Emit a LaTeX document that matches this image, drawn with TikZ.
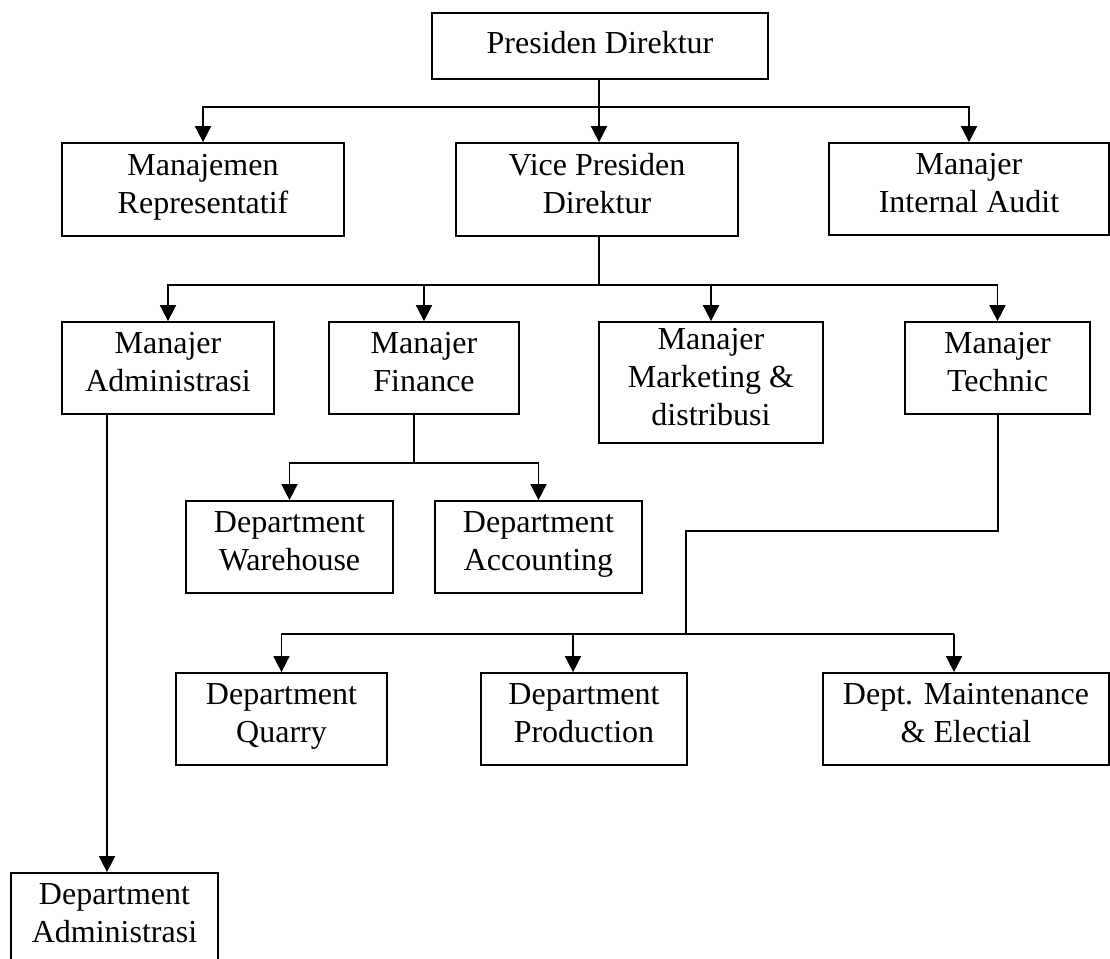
\documentclass[tikz,border=0pt]{standalone}
\usepackage{fontspec}
\setmainfont{Liberation Serif}
\usetikzlibrary{arrows.meta}
\begin{document}
\begin{tikzpicture}[x=0.75pt,y=-0.75pt,
  box/.style 2 args={draw=black, line width=1.3pt, inner sep=0pt, align=center,
    minimum width=#1*0.75pt, minimum height=#2*0.75pt,
    font=\fontsize{24pt}{28.5pt}\selectfont,
    execute at begin node=\strut, execute at end node=\strut},
  link/.style={line width=1.3pt},
  arr/.style={link, -{Triangle[width=12pt,length=12pt]}}]
\useasboundingbox (0,0) rectangle (1110,959);
\clip (0,0) rectangle (1110,959);
% boxes
\node[box={336}{66}] (pd) at (600,46) {Presiden Direktur};
\node[box={282}{93}] (mr) at (203,189.5) {Manajemen\\Representatif};
\node[box={282}{93}] (vp) at (597,189.5) {Vice Presiden\\Direktur};
\node[box={280}{92}] (ia) at (969,189) {Manajer\\Internal Audit};
\node[box={212}{92}] (ma) at (168,368) {Manajer\\Administrasi};
\node[box={190}{92}] (mf) at (424,368) {Manajer\\Finance};
\node[box={224}{121}] (mm) at (711,382.5) {Manajer\\Marketing \&\\distribusi};
\node[box={185}{92}] (mt) at (997.5,368) {Manajer\\Technic};
\node[box={207}{92}] (dw) at (289.5,547) {Department\\Warehouse};
\node[box={207}{92}] (dac) at (538.5,547) {Department\\Accounting};
\node[box={211}{92}] (dq) at (281.5,719) {Department\\Quarry};
\node[box={206}{92}] (dp) at (584,719) {Department\\Production};
\node[box={286}{92}] (dm) at (966,719) {Dept. Maintenance\\\& Electial};
\node[box={207}{92}] (dad) at (114.5,919) {Department\\Administrasi};
% level 1
\coordinate (j1) at (599,107);
\draw[arr] (j1 |- pd.south) -- (j1 |- vp.north);
\draw[arr] (j1) -| (mr.north);
\draw[arr] (j1) -| (ia.north);
% level 2
\coordinate (j2) at (599,285);
\draw[link] (j2 |- vp.south) -- (j2);
\draw[arr] (j2) -| (ma.north);
\draw[arr] (j2) -| (mf.north);
\draw[arr] (j2) -| (mm.north);
\draw[arr] (j2) -| (mt.north);
% finance
\coordinate (j3) at (414,463);
\draw[link] (j3 |- mf.south) -- (j3);
\draw[arr] (j3) -| (dw.north);
\draw[arr] (j3) -| (dac.north);
% technic
\coordinate (t1) at (998,531);
\coordinate (t2) at (686,531);
\coordinate (j4) at (686,634);
\coordinate (p1) at (573,634);
\coordinate (p2) at (954,634);
\draw[link] (t1 |- mt.south) -- (t1) -- (t2) -- (j4);
\draw[arr] (j4) -| (dq.north);
\draw[link] (j4) -- (p2);
\draw[arr] (p1) -- (p1 |- dp.north);
\draw[arr] (p2) -- (p2 |- dm.north);
% administrasi
\coordinate (a1) at (107,414);
\draw[arr] (a1 |- ma.south) -- (a1 |- dad.north);
\end{tikzpicture}
\end{document}
